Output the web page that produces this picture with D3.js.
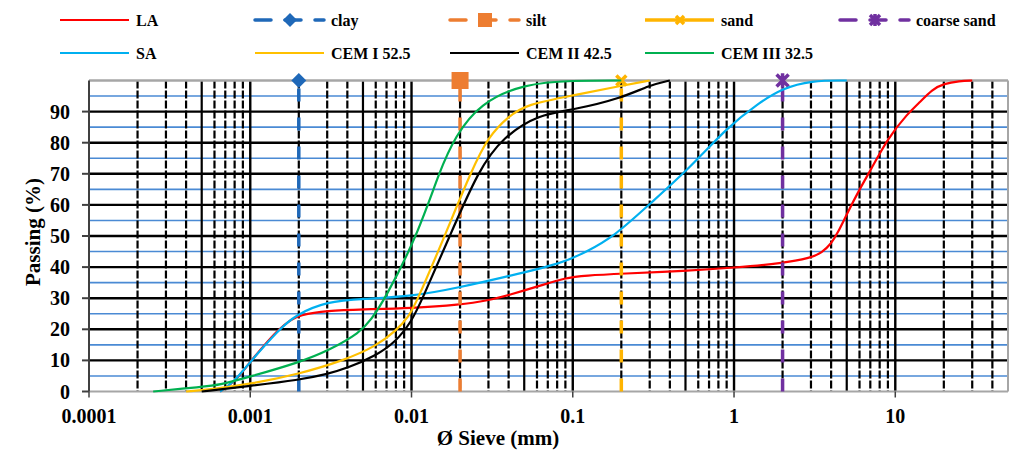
<!DOCTYPE html>
<html><head><meta charset="utf-8">
<script src="https://cdn.jsdelivr.net/npm/d3@7"></script>
<style>
body{margin:0;background:#fff}
svg{display:block}
text{font-family:"Liberation Serif","Times New Roman",serif;font-weight:bold;fill:#000}
</style>
</head><body><svg id="c" width="1009" height="450"></svg>
<script>
// ---------- DATA ----------
const seriesNames = ["LA","clay","silt","sand","coarse sand","SA","CEM I 52.5","CEM II 42.5","CEM III 32.5"];
const laData = [[0.00065,0],[0.0008,3],[0.001,9.6],[0.0013,16.5],[0.0015,20],[0.0018,23.2],[0.002,24.5],[0.003,26],[0.005,26.4],[0.01,26.8],[0.02,27.9],[0.03,29.3],[0.04,31],[0.062,33.9],[0.09,36.6],[0.12,37.3],[0.2,37.9],[0.5,38.8],[1,39.8],[2,41.2],[3,43],[3.5,44.6],[4,47.5],[4.4,51],[5,57],[6,65],[7,71],[9,81.5],[12,89.5],[14,92.7],[17,97.2],[20,99],[25,99.8],[30,100]];
const saData = [[0.00065,0],[0.0008,3.2],[0.001,9.6],[0.0015,19.8],[0.0019,24.6],[0.003,29],[0.005,29.8],[0.01,30.5],[0.02,33.5],[0.04,37.1],[0.086,41.2],[0.12,44.8],[0.18,49.8],[0.3,60.3],[0.53,71.8],[0.915,85.1],[1.4,92.5],[2,97.5],[3,100],[5,100]];
const cem1Data = [[0.0004,0],[0.0006,0.8],[0.001,2.4],[0.002,5.6],[0.0038,10],[0.006,14.5],[0.008,19.5],[0.0096,24],[0.0108,29],[0.016,49.8],[0.0236,71.2],[0.03,82],[0.04,88.5],[0.0517,92.3],[0.1,95.2],[0.2,98.3],[0.3,100]];
const cem2Data = [[0.0005,0],[0.001,1.8],[0.002,3.7],[0.003,5.6],[0.004,7.5],[0.006,11.5],[0.008,16],[0.01,22.5],[0.0115,29],[0.0172,49.8],[0.026,71.2],[0.037,81.9],[0.062,89.2],[0.1,90.5],[0.2,94.3],[0.3,98.5],[0.4,100]];
const cem3Data = [[0.00025,0],[0.0005,1.5],[0.00065,2.1],[0.001,4.8],[0.002,9.3],[0.0031,13.3],[0.0048,19],[0.0056,23],[0.0068,29.5],[0.0108,49.8],[0.015,71.2],[0.0186,81.9],[0.0265,92.7],[0.05,99],[0.1,100],[0.2,100]];
const claySize = 0.002, siltSize = 0.02, sandSize = 0.2, coarseSandSize = 2;
const passRange = [0, 100];
const yTickValues = [0,10,20,30,40,50,60,70,80,90];
const xTickValues = [0.0001,0.001,0.01,0.1,1,10];
const xTickLabels = ["0.0001","0.001","0.01","0.1","1","10"];

// ---------- LAYOUT ----------
const svg = d3.select("#c");
const L=89, R=1008, T=80.5, B=391.5;
const x = d3.scaleLog().domain([0.0001,50]).range([L,R]);
const y = d3.scaleLinear().domain([0,100]).range([B,T]);

const col = {LA:"#ff0000", SA:"#00b0f0", cem1:"#ffc000", cem2:"#000000", cem3:"#00b050",
  clay:"#1f68b8", silt:"#ed7d31", sand:"#ffb400", coarse:"#7030a0"};

const g = svg.append("g");

// minor horizontal (blue)
const minorY = d3.range(5,100,10);
g.selectAll(".hmin").data(minorY).enter().append("line")
  .attr("x1",L).attr("x2",R).attr("y1",d=>y(d)).attr("y2",d=>y(d))
  .attr("stroke","#4a8ad4").attr("stroke-width",1.6);

// vertical minor gridlines
const minorX = [];
for(let k=-4;k<=1;k++) for(let m=2;m<=9;m++){ const v=m*Math.pow(10,k); if(v<50) minorX.push({v,m}); }
g.selectAll(".vmin").data(minorX).enter().append("line")
  .attr("x1",d=>x(d.v)).attr("x2",d=>x(d.v)).attr("y1",T).attr("y2",B)
  .attr("stroke","#000").attr("stroke-width",2.2)
  .attr("stroke-dasharray",d=>d.m===5?null:"8,2");
// decade lines
g.selectAll(".vmaj").data(xTickValues.slice(1)).enter().append("line")
  .attr("x1",d=>x(d)).attr("x2",d=>x(d)).attr("y1",T).attr("y2",B)
  .attr("stroke","#000").attr("stroke-width",2.4);
// major horizontal
g.selectAll(".hmaj").data(yTickValues.slice(1)).enter().append("line")
  .attr("x1",L).attr("x2",R).attr("y1",d=>y(d)).attr("y2",d=>y(d))
  .attr("stroke","#000").attr("stroke-width",2.4);

// borders
g.append("line").attr("x1",L).attr("x2",R).attr("y1",T).attr("y2",T).attr("stroke","#a6a6a6").attr("stroke-width",2.5);
g.append("line").attr("x1",R).attr("x2",R).attr("y1",T).attr("y2",B).attr("stroke","#a6a6a6").attr("stroke-width",2);
g.append("line").attr("x1",L).attr("x2",R).attr("y1",B).attr("y2",B).attr("stroke","#a6a6a6").attr("stroke-width",2);
g.append("line").attr("x1",L).attr("x2",L).attr("y1",T).attr("y2",B).attr("stroke","#404040").attr("stroke-width",2);

// ticks
g.selectAll(".yt").data(yTickValues).enter().append("line")
  .attr("x1",82).attr("x2",L).attr("y1",d=>y(d)).attr("y2",d=>y(d)).attr("stroke","#404040").attr("stroke-width",2);
g.selectAll(".xt").data(xTickValues).enter().append("line")
  .attr("x1",d=>x(d)).attr("x2",d=>x(d)).attr("y1",B).attr("y2",B+6).attr("stroke","#404040").attr("stroke-width",1.5);

g.selectAll(".ytl").data(yTickValues).enter().append("text")
  .attr("x",70).attr("y",d=>y(d)).attr("dy","0.35em").attr("text-anchor","end")
  .style("font-size","20px").text(d=>d);
g.selectAll(".xtl").data(xTickValues).enter().append("text")
  .attr("x",d=>x(d)).attr("y",423).attr("text-anchor","middle")
  .style("font-size","20px").text((d,i)=>xTickLabels[i]);

svg.append("text").attr("x",498).attr("y",445).attr("text-anchor","middle")
  .style("font-size","21px").text("Ø Sieve (mm)");
svg.append("text").attr("transform","translate(33,232) rotate(-90)").attr("text-anchor","middle")
  .attr("dy","0.35em").style("font-size","21px").text("Passing (%)");

// ---------- SERIES ----------
const line = d3.line().x(d=>x(d[0])).y(d=>y(d[1])).curve(d3.curveBasis);
function curve(data,c){ g.append("path").datum(data).attr("d",line).attr("fill","none").attr("stroke",c).attr("stroke-width",2.2); }

function marker(sel,type,c,s){
  if(type==="diamond") sel.append("path").attr("d",`M0,${-s}L${s},0L0,${s}L${-s},0Z`).attr("fill",c);
  else if(type==="square") sel.append("rect").attr("x",-s).attr("y",-s).attr("width",2*s).attr("height",2*s).attr("fill",c);
  else if(type==="x"){ sel.append("path").attr("d",`M${-s},${-s}L${s},${s}M${-s},${s}L${s},${-s}`).attr("stroke",c).attr("stroke-width",3.5); }
  else if(type==="star"){ sel.append("path").attr("d",`M${-s},${-s}L${s},${s}M${-s},${s}L${s},${-s}M0,${-s*1.2}L0,${s*1.2}`).attr("stroke",c).attr("stroke-width",3.5); }
}
function refLine(v,c,type,ms){
  const d=[[v,passRange[0]],[v,passRange[1]]];
  g.append("path").datum(d).attr("d",d3.line().x(p=>x(p[0])).y(p=>y(p[1])))
    .attr("stroke",c).attr("stroke-width",3.5).attr("stroke-dasharray","13,16").attr("fill","none");
  marker(g.append("g").attr("transform",`translate(${x(v)},${y(passRange[1])})`),type,c,ms);
}

curve(laData,col.LA);
refLine(claySize,col.clay,"diamond",7.5);
refLine(siltSize,col.silt,"square",8.5);
refLine(sandSize,col.sand,"x",5);
refLine(coarseSandSize,col.coarse,"star",6);
curve(saData,col.SA);
curve(cem1Data,col.cem1);
curve(cem2Data,col.cem2);
curve(cem3Data,col.cem3);

// ---------- LEGEND ----------
const legendItems = [
  {n:seriesNames[0],c:col.LA,t:"solid"},
  {n:seriesNames[1],c:col.clay,t:"dash",m:"diamond",ms:7},
  {n:seriesNames[2],c:col.silt,t:"dash",m:"square",ms:7},
  {n:seriesNames[3],c:col.sand,t:"solidm",m:"x",ms:4},
  {n:seriesNames[4],c:col.coarse,t:"dash",m:"star",ms:5},
  {n:seriesNames[5],c:col.SA,t:"solid"},
  {n:seriesNames[6],c:col.cem1,t:"solid"},
  {n:seriesNames[7],c:col.cem2,t:"solid"},
  {n:seriesNames[8],c:col.cem3,t:"solid"}
];
const lg = svg.append("g");
legendItems.forEach((it,i)=>{
  const row = i<5?0:1, ci = i<5?i:i-5;
  const x0 = 60 + ci*195, yy = row===0?20:53;
  const gi = lg.append("g");
  const ln = gi.append("line").attr("x1",x0).attr("x2",x0+69).attr("y1",yy).attr("y2",yy).attr("stroke",it.c);
  if(it.t==="solid") ln.attr("stroke-width",2.2);
  else if(it.t==="solidm") ln.attr("stroke-width",3.5);
  else ln.attr("stroke-width",3.5).attr("stroke-dasharray","16,14").attr("stroke-linecap","round");
  if(it.m) marker(gi.append("g").attr("transform",`translate(${x0+35},${yy})`),it.m,it.c,it.ms);
  gi.append("text").attr("x",x0+76).attr("y",yy).attr("dy","0.35em").style("font-size","16px").text(it.n);
});
</script>
</body></html>
